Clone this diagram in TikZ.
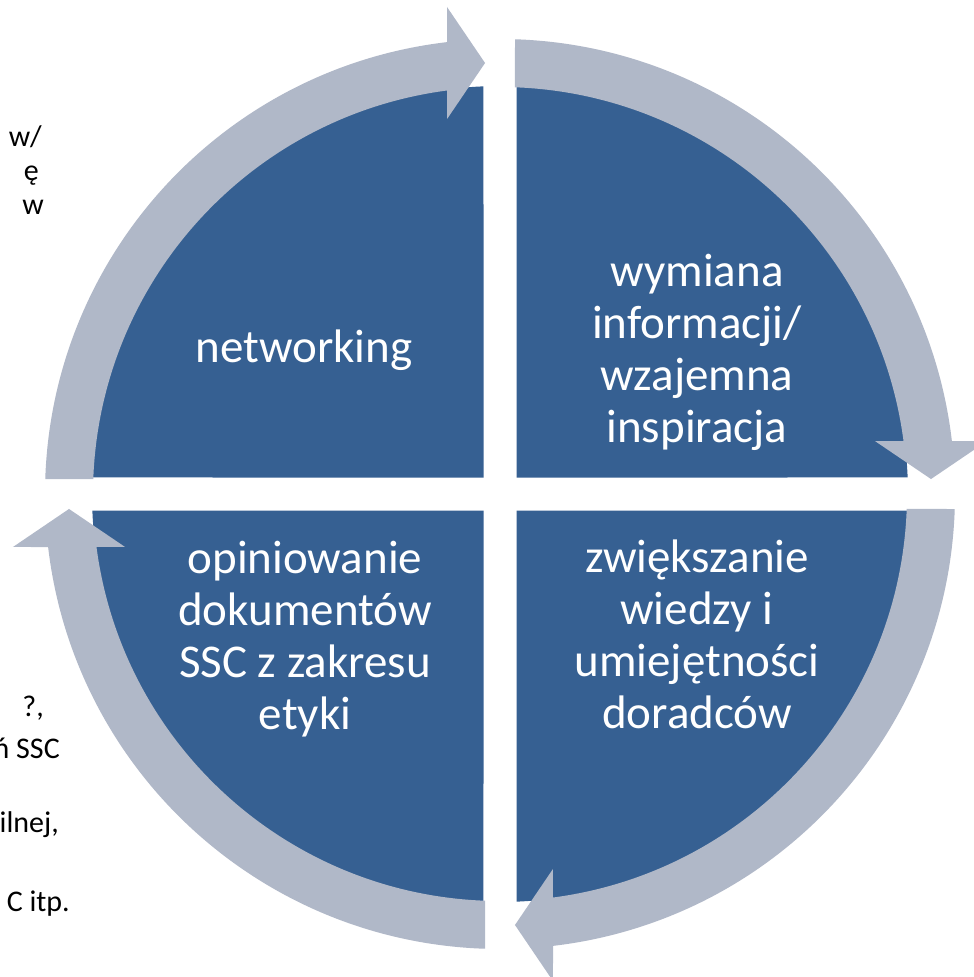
\documentclass[tikz,border=0pt]{standalone}
\usepackage{fontspec}
\setmainfont{Carlito}
\definecolor{quadc}{RGB}{54,96,146}
\definecolor{ringc}{RGB}{176,184,200}
\begin{document}
\begin{tikzpicture}[x=1pt,y=-1pt,
  qtext/.style={text=white,align=center,inner sep=0pt,font=\fontsize{47}{52}\selectfont},
  sidetext/.style={text=black,inner sep=0pt,anchor=base east,font=\fontsize{30}{36}\selectfont}]
\useasboundingbox (0,0) rectangle (974,977);
\fill[white] (0,0) rectangle (974,977);
\begin{scope}[shift={(500,494)}]
  \foreach \o in {0,90,180,270}{
    \fill[quadc] (\o-87.68:408) arc[start angle=\o-87.68, end angle=\o-2.32, radius=408] -- (\o-45:23.33) -- cycle;
  }
  \foreach \o in {0,90,180,270}{
    \fill[ringc] (\o-88.11:455) arc[start angle=\o-88.11, end angle=\o-6.69, radius=455]
      -- (\o-6.21:489.9) -- (\o-1.99:431.26) -- (\o-8.04:378.7) -- (\o-7.48:407)
      arc[start angle=\o-7.48, end angle=\o-87.89, radius=407] -- cycle;
  }
\end{scope}
\node[qtext] (tr) at (697,352) {wymiana\\informacji/\\wzajemna\\inspiracja};
\node[qtext,anchor=base] (tl) at (304,362) {networking};
\node[qtext] (bl) at (305,639) {opiniowanie\\dokumentów\\SSC z zakresu\\etyki};
\node[qtext] (br) at (697,634) {zwiększanie\\wiedzy i\\umiejętności\\doradców};
\node[sidetext] (s1) at (42,146) {w/};
\node[sidetext] (s2) at (39,180) {ę};
\node[sidetext] (s3) at (44,214) {w};
\node[sidetext] (s4) at (44,716) {?,};
\node[sidetext] (s5) at (60,758) {ń SSC};
\node[sidetext] (s6) at (59,832) {ilnej,};
\node[sidetext] (s7) at (70,911) {C itp.};
\end{tikzpicture}
\end{document}
